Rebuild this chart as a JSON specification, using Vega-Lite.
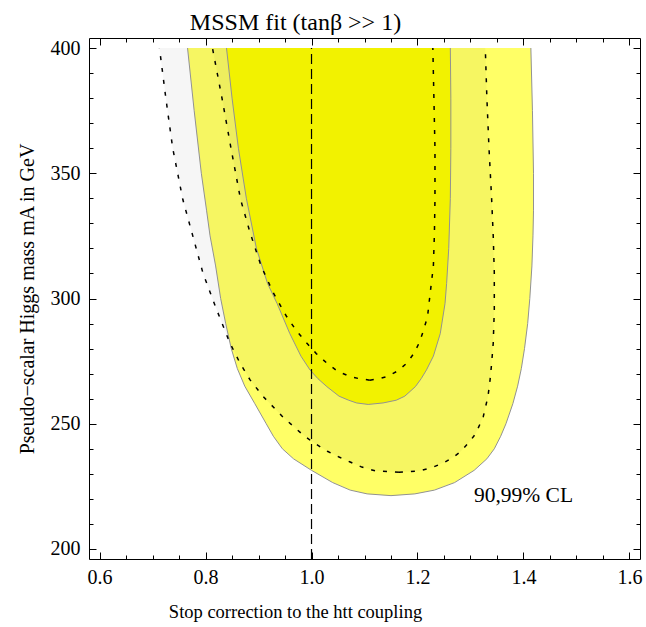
{
  "$schema": "https://vega.github.io/schema/vega-lite/v6.json",
  "width": 551,
  "height": 521,
  "autosize": "none",
  "padding": {"left": 89, "top": 38, "right": 6, "bottom": 68},
  "background": "white",
  "config": {
    "view": {"stroke": "#000000", "strokeWidth": 1},
    "font": "Liberation Serif",
    "axis": {
      "grid": false,
      "domain": false,
      "tickColor": "#000000",
      "tickWidth": 1,
      "labelColor": "#000000",
      "labelFont": "Liberation Serif",
      "labelFontSize": 20,
      "labelFlush": false,
      "labelOverlap": false,
      "labelBound": false,
      "titleFont": "Liberation Serif",
      "titleFontWeight": "normal",
      "titleColor": "#000000"
    }
  },
  "title": {
    "text": "MSSM fit (tanβ >> 1)",
    "font": "Liberation Serif",
    "fontSize": 24,
    "fontWeight": "normal",
    "color": "#000000",
    "anchor": "middle",
    "frame": "group",
    "dx": -69,
    "baseline": "alphabetic",
    "offset": -16
  },
  "datasets": {
    "contours": [
      {"c": "Y1", "y": 221.3, "xl": 1.150, "xr": 1.150},
      {"c": "Y1", "y": 222.0, "xl": 1.105, "xr": 1.195},
      {"c": "Y1", "y": 223.5, "xl": 1.073, "xr": 1.232},
      {"c": "Y1", "y": 226.5, "xl": 1.040, "xr": 1.270},
      {"c": "Y1", "y": 231.4, "xl": 1.000, "xr": 1.307},
      {"c": "Y1", "y": 236.0, "xl": 0.966, "xr": 1.331},
      {"c": "Y1", "y": 240.0, "xl": 0.945, "xr": 1.345},
      {"c": "Y1", "y": 245.0, "xl": 0.928, "xr": 1.357},
      {"c": "Y1", "y": 250.0, "xl": 0.9145, "xr": 1.367},
      {"c": "Y1", "y": 258.0, "xl": 0.893, "xr": 1.380},
      {"c": "Y1", "y": 265.0, "xl": 0.874, "xr": 1.389},
      {"c": "Y1", "y": 272.0, "xl": 0.860, "xr": 1.396},
      {"c": "Y1", "y": 280.0, "xl": 0.8485, "xr": 1.402},
      {"c": "Y1", "y": 290.0, "xl": 0.838, "xr": 1.408},
      {"c": "Y1", "y": 300.0, "xl": 0.8285, "xr": 1.412},
      {"c": "Y1", "y": 313.0, "xl": 0.819, "xr": 1.416},
      {"c": "Y1", "y": 325.0, "xl": 0.8085, "xr": 1.418},
      {"c": "Y1", "y": 335.0, "xl": 0.802, "xr": 1.419},
      {"c": "Y1", "y": 350.0, "xl": 0.792, "xr": 1.419},
      {"c": "Y1", "y": 375.0, "xl": 0.7785, "xr": 1.417},
      {"c": "Y1", "y": 400.0, "xl": 0.766, "xr": 1.414},

      {"c": "Y2", "y": 257.7, "xl": 1.107, "xr": 1.107},
      {"c": "Y2", "y": 258.3, "xl": 1.085, "xr": 1.135},
      {"c": "Y2", "y": 259.4, "xl": 1.070, "xr": 1.160},
      {"c": "Y2", "y": 261.0, "xl": 1.052, "xr": 1.176},
      {"c": "Y2", "y": 264.8, "xl": 1.029, "xr": 1.196},
      {"c": "Y2", "y": 268.0, "xl": 1.012, "xr": 1.207},
      {"c": "Y2", "y": 271.5, "xl": 0.997, "xr": 1.217},
      {"c": "Y2", "y": 277.0, "xl": 0.980, "xr": 1.230},
      {"c": "Y2", "y": 286.0, "xl": 0.959, "xr": 1.243},
      {"c": "Y2", "y": 298.0, "xl": 0.935, "xr": 1.252},
      {"c": "Y2", "y": 306.0, "xl": 0.917, "xr": 1.255},
      {"c": "Y2", "y": 320.0, "xl": 0.896, "xr": 1.259},
      {"c": "Y2", "y": 340.0, "xl": 0.877, "xr": 1.262},
      {"c": "Y2", "y": 360.0, "xl": 0.862, "xr": 1.263},
      {"c": "Y2", "y": 380.0, "xl": 0.850, "xr": 1.263},
      {"c": "Y2", "y": 400.0, "xl": 0.8395, "xr": 1.262},

      {"c": "D1", "y": 230.6, "xl": 1.165, "xr": 1.165},
      {"c": "D1", "y": 231.2, "xl": 1.120, "xr": 1.205},
      {"c": "D1", "y": 232.7, "xl": 1.095, "xr": 1.230},
      {"c": "D1", "y": 234.7, "xl": 1.073, "xr": 1.252},
      {"c": "D1", "y": 236.7, "xl": 1.052, "xr": 1.268},
      {"c": "D1", "y": 239.0, "xl": 1.030, "xr": 1.282},
      {"c": "D1", "y": 243.0, "xl": 1.000, "xr": 1.299},
      {"c": "D1", "y": 246.1, "xl": 0.981, "xr": 1.310},
      {"c": "D1", "y": 252.7, "xl": 0.946, "xr": 1.324},
      {"c": "D1", "y": 260.8, "xl": 0.909, "xr": 1.333},
      {"c": "D1", "y": 267.5, "xl": 0.884, "xr": 1.337},
      {"c": "D1", "y": 274.2, "xl": 0.865, "xr": 1.340},
      {"c": "D1", "y": 282.2, "xl": 0.846, "xr": 1.343},
      {"c": "D1", "y": 295.5, "xl": 0.821, "xr": 1.345},
      {"c": "D1", "y": 310.2, "xl": 0.795, "xr": 1.345},
      {"c": "D1", "y": 324.9, "xl": 0.776, "xr": 1.343},
      {"c": "D1", "y": 339.6, "xl": 0.757, "xr": 1.340},
      {"c": "D1", "y": 360.0, "xl": 0.738, "xr": 1.335},
      {"c": "D1", "y": 380.0, "xl": 0.725, "xr": 1.331},
      {"c": "D1", "y": 400.0, "xl": 0.713, "xr": 1.328},

      {"c": "D2", "y": 267.4, "xl": 1.110, "xr": 1.110},
      {"c": "D2", "y": 268.0, "xl": 1.090, "xr": 1.128},
      {"c": "D2", "y": 268.8, "xl": 1.073, "xr": 1.142},
      {"c": "D2", "y": 271.0, "xl": 1.049, "xr": 1.162},
      {"c": "D2", "y": 274.2, "xl": 1.029, "xr": 1.180},
      {"c": "D2", "y": 278.0, "xl": 1.009, "xr": 1.193},
      {"c": "D2", "y": 282.2, "xl": 0.991, "xr": 1.203},
      {"c": "D2", "y": 287.0, "xl": 0.972, "xr": 1.211},
      {"c": "D2", "y": 292.8, "xl": 0.953, "xr": 1.219},
      {"c": "D2", "y": 302.2, "xl": 0.928, "xr": 1.224},
      {"c": "D2", "y": 312.9, "xl": 0.905, "xr": 1.230},
      {"c": "D2", "y": 326.3, "xl": 0.884, "xr": 1.232},
      {"c": "D2", "y": 339.6, "xl": 0.866, "xr": 1.233},
      {"c": "D2", "y": 360.0, "xl": 0.848, "xr": 1.233},
      {"c": "D2", "y": 380.0, "xl": 0.831, "xr": 1.231},
      {"c": "D2", "y": 400.0, "xl": 0.813, "xr": 1.229}
    ],
    "ref": [{"x": 1.0, "ylo": 196, "yhi": 400}],
    "note": [{"label": "90,99% CL", "x": 1.4, "y": 221}]
  },
  "layer": [
    {
      "data": {"name": "contours"},
      "transform": [{"filter": "datum.c === 'Y1'"}],
      "mark": {"type": "area", "orient": "horizontal", "color": "#FFFF66"},
      "encoding": {
        "y": {
          "field": "y", "type": "quantitative",
          "scale": {"domain": [196, 404], "nice": false, "zero": false},
          "axis": {
            "orient": "left",
            "values": [200, 250, 300, 350, 400],
            "format": "d",
            "tickSize": -7,
            "labelPadding": 16,
            "title": "Pseudo−scalar Higgs mass mA in GeV",
            "titleFontSize": 20,
            "titleX": -55.5,
            "titleY": 260.5,
            "titleAngle": -90,
            "titleAlign": "center",
            "titleBaseline": "alphabetic"
          }
        },
        "x": {
          "field": "xl", "type": "quantitative",
          "scale": {"domain": [0.58, 1.62], "nice": false, "zero": false},
          "axis": {
            "orient": "bottom",
            "values": [0.6, 0.8, 1.0, 1.2, 1.4, 1.6],
            "format": ".1f",
            "tickSize": -7,
            "labelPadding": 15,
            "title": "Stop correction to the htt coupling",
            "titleFontSize": 18.5,
            "titleX": 206,
            "titleY": 58,
            "titleAlign": "center",
            "titleBaseline": "alphabetic"
          }
        },
        "x2": {"field": "xr"}
      }
    },
    {
      "data": {"name": "contours"},
      "transform": [{"filter": "datum.c === 'D1'"}],
      "mark": {"type": "area", "orient": "horizontal", "color": "#000000", "opacity": 0.035},
      "encoding": {
        "y": {
          "field": "y", "type": "quantitative",
          "scale": {"domain": [196, 404], "nice": false, "zero": false},
          "axis": {
            "orient": "left",
            "values": [210, 220, 230, 240, 260, 270, 280, 290, 310, 320, 330, 340, 360, 370, 380, 390],
            "tickSize": -4, "labels": false, "title": null
          }
        },
        "x": {
          "field": "xl", "type": "quantitative",
          "scale": {"domain": [0.58, 1.62], "nice": false, "zero": false},
          "axis": {
            "orient": "bottom",
            "values": [0.65, 0.7, 0.75, 0.85, 0.9, 0.95, 1.05, 1.1, 1.15, 1.25, 1.3, 1.35, 1.45, 1.5, 1.55],
            "tickSize": -4, "labels": false, "title": null
          }
        },
        "x2": {"field": "xr"}
      }
    },
    {
      "data": {"name": "contours"},
      "transform": [{"filter": "datum.c === 'D2'"}],
      "mark": {"type": "area", "orient": "horizontal", "color": "#000000", "opacity": 0.03},
      "encoding": {
        "y": {
          "field": "y", "type": "quantitative",
          "scale": {"domain": [196, 404], "nice": false, "zero": false},
          "axis": {
            "orient": "right",
            "values": [200, 250, 300, 350, 400],
            "tickSize": -7, "labels": false, "title": null
          }
        },
        "x": {
          "field": "xl", "type": "quantitative",
          "scale": {"domain": [0.58, 1.62], "nice": false, "zero": false},
          "axis": {
            "orient": "top",
            "values": [0.6, 0.8, 1.0, 1.2, 1.4, 1.6],
            "tickSize": -7, "labels": false, "title": null
          }
        },
        "x2": {"field": "xr"}
      }
    },
    {
      "data": {"name": "contours"},
      "transform": [{"filter": "datum.c === 'Y2'"}],
      "mark": {"type": "area", "orient": "horizontal", "color": "#F2F200"},
      "encoding": {
        "y": {
          "field": "y", "type": "quantitative",
          "scale": {"domain": [196, 404], "nice": false, "zero": false},
          "axis": {
            "orient": "right",
            "values": [210, 220, 230, 240, 260, 270, 280, 290, 310, 320, 330, 340, 360, 370, 380, 390],
            "tickSize": -4, "labels": false, "title": null
          }
        },
        "x": {
          "field": "xl", "type": "quantitative",
          "scale": {"domain": [0.58, 1.62], "nice": false, "zero": false},
          "axis": {
            "orient": "top",
            "values": [0.65, 0.7, 0.75, 0.85, 0.9, 0.95, 1.05, 1.1, 1.15, 1.25, 1.3, 1.35, 1.45, 1.5, 1.55],
            "tickSize": -4, "labels": false, "title": null
          }
        },
        "x2": {"field": "xr"}
      }
    },
    {
      "data": {"name": "contours"},
      "transform": [
        {"filter": "datum.c === 'Y1' || datum.c === 'Y2'"},
        {"fold": ["xl", "xr"], "as": ["side", "xv"]}
      ],
      "mark": {"type": "line", "color": "#929292", "strokeWidth": 1},
      "encoding": {
        "x": {"field": "xv", "type": "quantitative", "axis": null},
        "y": {"field": "y", "type": "quantitative", "axis": null},
        "detail": [{"field": "c"}, {"field": "side"}],
        "order": {"field": "y", "type": "quantitative"}
      }
    },
    {
      "data": {"name": "contours"},
      "transform": [
        {"filter": "datum.c === 'D1' || datum.c === 'D2'"},
        {"fold": ["xl", "xr"], "as": ["side", "xv"]}
      ],
      "mark": {"type": "line", "color": "#000000", "strokeWidth": 1.5, "strokeDash": [4, 8]},
      "encoding": {
        "x": {"field": "xv", "type": "quantitative", "axis": null},
        "y": {"field": "y", "type": "quantitative", "axis": null},
        "detail": [{"field": "c"}, {"field": "side"}],
        "order": {"field": "y", "type": "quantitative"}
      }
    },
    {
      "data": {"name": "ref"},
      "mark": {"type": "rule", "color": "#000000", "strokeWidth": 1.2, "strokeDash": [10, 5]},
      "encoding": {
        "x": {"field": "x", "type": "quantitative", "axis": null},
        "y": {"field": "ylo", "type": "quantitative", "axis": null},
        "y2": {"field": "yhi"}
      }
    },
    {
      "data": {"name": "note"},
      "mark": {"type": "text", "font": "Liberation Serif", "fontSize": 21.5, "color": "#000000", "align": "center", "baseline": "middle"},
      "encoding": {
        "x": {"field": "x", "type": "quantitative", "axis": null},
        "y": {"field": "y", "type": "quantitative", "axis": null},
        "text": {"field": "label"}
      }
    }
  ],
  "resolve": {"axis": {"x": "independent", "y": "independent"}}
}
